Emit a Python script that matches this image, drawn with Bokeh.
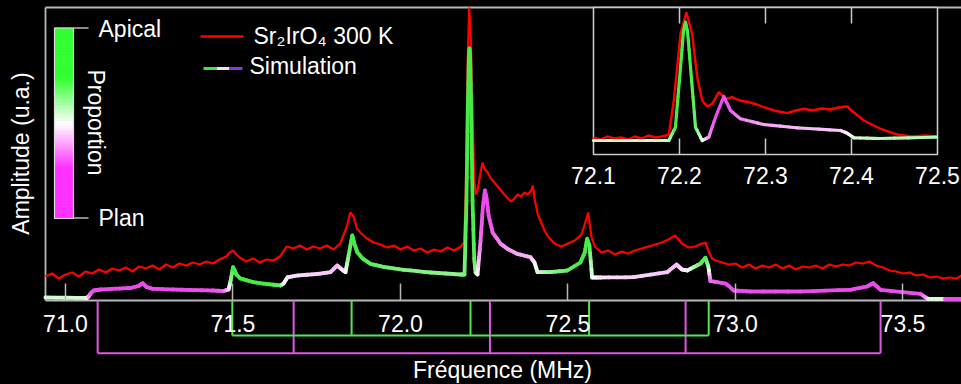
import math
from bokeh.plotting import figure
from bokeh.models import Range1d, FixedTicker, PrintfTickFormatter
from bokeh.core.properties import value
from bokeh.embed import file_html
from bokeh.resources import INLINE

# ---------------- data ----------------
# Experimental spectrum (Sr2IrO4, 300 K), main panel
red_freq = [70.94, 70.96, 70.98, 71.00, 71.02, 71.04, 71.06, 71.08, 71.10, 71.12,
            71.14, 71.16, 71.18, 71.20, 71.22, 71.24, 71.26, 71.28, 71.30, 71.32,
            71.34, 71.36, 71.38, 71.40, 71.42, 71.44, 71.46, 71.48, 71.49, 71.50,
            71.51, 71.52, 71.54, 71.56, 71.58, 71.60, 71.62, 71.64, 71.66, 71.68,
            71.70, 71.72, 71.74, 71.76, 71.78, 71.80, 71.82, 71.84, 71.85, 71.86,
            71.87, 71.88, 71.90, 71.92, 71.94, 71.96, 71.98, 72.00, 72.02, 72.04,
            72.06, 72.08, 72.10, 72.12, 72.14, 72.16, 72.18, 72.19, 72.195, 72.20,
            72.205, 72.21, 72.215, 72.22, 72.225, 72.23, 72.24, 72.245, 72.25, 72.26,
            72.27, 72.28, 72.29, 72.30, 72.31, 72.32, 72.33, 72.34, 72.35, 72.36,
            72.37, 72.38, 72.39, 72.395, 72.40, 72.41, 72.42, 72.43, 72.44, 72.46,
            72.48, 72.50, 72.52, 72.54, 72.55, 72.56, 72.57, 72.58, 72.60, 72.62,
            72.64, 72.66, 72.68, 72.70, 72.72, 72.74, 72.76, 72.78, 72.80, 72.82,
            72.84, 72.86, 72.88, 72.90, 72.91, 72.92, 72.93, 72.94, 72.96, 72.98,
            73.00, 73.02, 73.04, 73.06, 73.08, 73.10, 73.12, 73.14, 73.16, 73.18,
            73.20, 73.22, 73.24, 73.26, 73.28, 73.30, 73.32, 73.34, 73.36, 73.38,
            73.40, 73.42, 73.44, 73.46, 73.48, 73.50, 73.52, 73.54, 73.56, 73.58,
            73.60, 73.62, 73.64, 73.66, 73.675]
red_amp = [22, 25, 20, 24, 26, 22, 27, 25, 29, 26,
           30, 28, 31, 27, 32, 30, 33, 29, 34, 31,
           35, 33, 36, 34, 37, 35, 39, 42, 46, 48,
           44, 41, 37, 40, 36, 39, 38, 42, 52, 50,
           53, 49, 52, 50, 53, 49, 55, 72, 86, 82,
           70, 66, 60, 56, 54, 51, 53, 49, 52, 48,
           50, 46, 49, 47, 51, 48, 52, 56, 110, 230,
           291, 260, 190, 120, 104, 108, 128, 136, 130, 126,
           120, 116, 112, 108, 104, 100, 97, 100, 104, 102,
           106, 104, 108, 113, 100, 84, 76, 68, 62, 55,
           52, 55, 58, 64, 74, 86, 62, 52, 46, 48,
           44, 47, 45, 48, 50, 52, 54, 56, 59, 63,
           55, 51, 52, 55, 56, 47, 40, 38, 36, 34,
           35, 31, 34, 30, 33, 31, 34, 30, 33, 29,
           32, 31, 33, 30, 34, 32, 34, 33, 36, 35,
           37, 33, 31, 28, 27, 25, 26, 23, 24, 21,
           22, 20, 21, 20, 23]

# Simulation, main panel: amplitude and apical proportion (1 = apical, 0 = plan)
sim_freq = [70.940, 71.063, 71.069, 71.076, 71.084, 71.105, 71.150, 71.194, 71.218, 71.230,
            71.242, 71.260, 71.320, 71.373, 71.440, 71.472, 71.487, 71.493, 71.500, 71.505,
            71.510, 71.522, 71.561, 71.600, 71.642, 71.651, 71.663, 71.693, 71.750, 71.791,
            71.811, 71.825, 71.836, 71.845, 71.856, 71.862, 71.871, 71.887, 71.910, 71.950,
            72.009, 72.090, 72.179, 72.191, 72.197, 72.201, 72.204, 72.206, 72.208, 72.211,
            72.215, 72.220, 72.224, 72.230, 72.239, 72.246, 72.252, 72.257, 72.263, 72.275,
            72.299, 72.320, 72.348, 72.388, 72.400, 72.409, 72.450, 72.498, 72.537, 72.550,
            72.557, 72.564, 72.572, 72.597, 72.696, 72.796, 72.824, 72.840, 72.856, 72.896,
            72.910, 72.919, 72.925, 72.970, 72.982, 72.994, 73.045, 73.194, 73.343, 73.393,
            73.411, 73.433, 73.552, 73.572, 73.579, 73.621, 73.627, 73.675]
sim_amp = [1.0, 0.5, 2.0, 5.5, 8.0, 9.0, 9.8, 10.5, 12.5, 15.3,
           11.5, 9.7, 9.0, 8.5, 8.0, 7.5, 9.0, 18.0, 31.3, 28.0,
           24.0, 20.0, 16.3, 14.5, 13.0, 15.0, 21.3, 23.0, 24.5, 26.3,
           33.0, 29.0, 26.3, 43.0, 63.0, 55.0, 46.3, 40.0, 34.7, 31.5,
           28.7, 26.0, 24.0, 24.0, 98.0, 190.0, 240.0, 250.0, 240.0, 190.0,
           98.0, 40.0, 26.0, 24.0, 58.0, 92.0, 108.0, 100.0, 83.0, 66.0,
           54.7, 49.5, 44.7, 41.3, 36.0, 26.3, 26.5, 28.0, 36.0, 46.0,
           59.7, 53.0, 21.0, 21.0, 21.3, 26.3, 34.0, 29.0, 28.0, 35.0,
           40.7, 32.0, 17.5, 15.0, 12.0, 8.0, 7.0, 7.0, 8.7, 12.0,
           15.3, 8.7, 4.7, 0.0, -0.5, -0.5, -0.5, -0.5]
sim_apical = [0.62, 0.62, 0.30, 0.05, 0.0, 0.0, 0.0, 0.0, 0.0, 0.0,
              0.0, 0.0, 0.0, 0.0, 0.02, 0.05, 0.30, 0.75, 1.0, 1.0,
              1.0, 1.0, 1.0, 1.0, 0.95, 0.60, 0.42, 0.40, 0.37, 0.35,
              0.30, 0.38, 0.45, 0.85, 1.0, 1.0, 1.0, 1.0, 0.95, 0.90,
              0.85, 0.82, 0.80, 0.85, 1.0, 1.0, 1.0, 1.0, 1.0, 1.0,
              1.0, 0.95, 0.80, 0.50, 0.10, 0.0, 0.0, 0.0, 0.0, 0.05,
              0.15, 0.20, 0.25, 0.30, 0.40, 0.60, 0.80, 0.90, 1.0, 1.0,
              1.0, 1.0, 0.55, 0.42, 0.37, 0.35, 0.30, 0.40, 0.50, 0.90,
              1.0, 0.80, 0.10, 0.0, 0.0, 0.0, 0.0, 0.0, 0.0, 0.0,
              0.0, 0.0, 0.0, 0.20, 0.62, 0.62, 0.0, 0.0]

# Inset (zoom on the central line)
inset_red_freq = [72.100, 72.108, 72.116, 72.124, 72.132, 72.140, 72.148, 72.156, 72.164, 72.172,
                  72.180, 72.1876, 72.1934, 72.2012, 72.208, 72.2147, 72.2206, 72.2264, 72.2322, 72.238,
                  72.2457, 72.2535, 72.2613, 72.270, 72.280, 72.290, 72.298, 72.310, 72.320, 72.3252,
                  72.335, 72.345, 72.355, 72.365, 72.375, 72.385, 72.395, 72.400, 72.4143, 72.4337,
                  72.453, 72.470, 72.485, 72.4988]
inset_red_amp = [3, 1, 4, 2, 3, 1, 4, 2, 5, 3,
                 4, 6, 40, 106.7, 128.3, 106.7, 63.3, 40, 34, 36.7,
                 48.3, 41.7, 43.3, 40, 38.5, 36, 33.3, 30, 28.3, 27.3,
                 30, 31.7, 30, 32, 31, 33, 34, 30, 20, 11.7,
                 6, 4, 5, 4]
inset_sim_freq = [72.100, 72.1876, 72.1953, 72.2012, 72.2045, 72.207, 72.2095, 72.2128, 72.2186, 72.2264,
                  72.234, 72.2419, 72.2515, 72.2593, 72.2709, 72.298, 72.3369, 72.3872, 72.395, 72.4027,
                  72.4337, 72.4988]
inset_sim_amp = [0, 0, 13.3, 73.3, 108, 118.3, 108, 73.3, 13.3, 0,
                 3.3, 23.3, 44, 30, 21.7, 16, 12.7, 10, 7.3, 2.7,
                 2, 3.3]
inset_sim_apical = [0.62, 0.65, 1.0, 1.0, 1.0, 1.0, 1.0, 1.0, 0.9, 0.6,
                    0.2, 0.0, 0.0, 0.05, 0.15, 0.25, 0.30, 0.35, 0.45, 0.6,
                    0.7, 0.7]

# Line positions (stick diagrams) and ticks
apical_lines = [71.498, 71.854, 72.209, 72.563, 72.920]
plan_lines = [71.096, 71.681, 72.267, 72.851, 73.433]
main_ticks = [71.0, 71.5, 72.0, 72.5, 73.0, 73.5]
inset_ticks = [72.1, 72.2, 72.3, 72.4, 72.5]
inset_tick_labels = ["72.1", "72.2", "72.3", "72.4", "72.5"]

# ---------------- styling helpers ----------------
FONT = value("Liberation Sans")
FS = "23px"
GREY = "#b8b8b8"
W, H = 961, 384

GREEN = (70, 236, 70)
MAGENTA = (236, 76, 236)


def mix(frac, g=GREEN, m=MAGENTA):
    if frac >= 0.5:
        t = (frac - 0.5) / 0.5
        c = [255 * (1 - t) + g[i] * t for i in range(3)]
    else:
        t = frac / 0.5
        c = [m[i] * (1 - t) + 255 * t for i in range(3)]
    return "#%02x%02x%02x" % tuple(int(round(v)) for v in c)


def colored_segments(fr, am, ap, sub=4):
    x0, y0, x1, y1, cols = [], [], [], [], []
    for i in range(len(fr) - 1):
        for k in range(sub):
            t0, t1 = k / sub, (k + 1) / sub
            x0.append(fr[i] + (fr[i + 1] - fr[i]) * t0)
            x1.append(fr[i] + (fr[i + 1] - fr[i]) * t1)
            y0.append(am[i] + (am[i + 1] - am[i]) * t0)
            y1.append(am[i] + (am[i + 1] - am[i]) * t1)
            cols.append(mix(ap[i] + (ap[i + 1] - ap[i]) * (t0 + t1) / 2))
    return dict(x0=x0, y0=y0, x1=x1, y1=y1, color=cols)


# ---------------- figure ----------------
p = figure(width=W, height=H, title=None,
           x_range=Range1d(70.80597, 73.67463), y_range=Range1d(-86, 298),
           output_backend="svg", toolbar_location=None, min_border=0,
           background_fill_color="black", border_fill_color="black",
           outline_line_color=None)
p.extra_x_ranges = {"ix": Range1d(71.410465, 72.527907), "px": Range1d(0, W)}
p.extra_y_ranges = {"iy": Range1d(-244, 140), "py": Range1d(H, 0)}
p.yaxis.visible = False
p.grid.visible = False

xa = p.xaxis[0]
xa.fixed_location = -2
xa.ticker = FixedTicker(ticks=main_ticks)
xa.formatter = PrintfTickFormatter(format="%.1f")
xa.axis_line_color = None
xa.major_tick_in = 17
xa.major_tick_out = 0
xa.minor_tick_line_color = None
xa.major_tick_line_color = GREY
xa.major_tick_line_width = 1.5
xa.major_label_text_color = "white"
xa.major_label_text_font = "Liberation Sans"
xa.major_label_text_font_size = FS
xa.major_label_standoff = 14

x_left = 70.9403
x_right = 73.6746
# main frame: left edge, top edge, baseline
p.segment(x0=[x_left, x_left, x_left], y0=[-2, 291, -2], x1=[x_left, x_right, x_right],
          y1=[291, 291, -2], line_color=GREY, line_width=1.8)

# stick diagrams below the axis
g_lvl, m_lvl = -37, -54.7
p.segment(x0=plan_lines, y0=[-2] * len(plan_lines), x1=plan_lines, y1=[m_lvl] * len(plan_lines),
          line_color="#e455e4", line_width=2)
p.segment(x0=[plan_lines[0]], y0=[m_lvl], x1=[plan_lines[-1]], y1=[m_lvl],
          line_color="#e455e4", line_width=2)
p.segment(x0=apical_lines, y0=[-2] * len(apical_lines), x1=apical_lines, y1=[g_lvl] * len(apical_lines),
          line_color="#4fe84f", line_width=2)
p.segment(x0=[apical_lines[0]], y0=[g_lvl], x1=[apical_lines[-1]], y1=[g_lvl],
          line_color="#4fe84f", line_width=2)

# main curves
p.line(red_freq, red_amp, line_color="#ff0000", line_width=2.2)
p.segment(x0="x0", y0="y0", x1="x1", y1="y1", line_color="color", line_width=3.8,
          line_cap="round", source=colored_segments(sim_freq, sim_amp, sim_apical))

# ---------------- inset ----------------
I = dict(x_range_name="ix", y_range_name="iy")
p.quad(left=[72.1], right=[72.5], bottom=[-14], top=[133], fill_color="black",
       line_color="#c8c8c8", line_width=1.6, **I)
p.line(inset_red_freq, inset_red_amp, line_color="#ff0000", line_width=2.4, **I)
p.segment(x0="x0", y0="y0", x1="x1", y1="y1", line_color="color", line_width=3.2,
          line_cap="round", source=colored_segments(inset_sim_freq, inset_sim_amp, inset_sim_apical), **I)
inner = inset_ticks[1:-1]
p.segment(x0=inner, y0=[-14] * 3, x1=inner, y1=[2] * 3, line_color="#c8c8c8", line_width=1.5, **I)
p.segment(x0=inner, y0=[133] * 3, x1=inner, y1=[117] * 3, line_color="#c8c8c8", line_width=1.5, **I)
p.text(x=inset_ticks, y=[-35] * 5, text=inset_tick_labels, text_color="white", text_font=FONT,
       text_font_size=FS, text_align="center", text_baseline="middle", **I)

# ---------------- legend / colour bar (pixel coordinates) ----------------
P = dict(x_range_name="px", y_range_name="py")
N = 80
cb_bottom, cb_top = 218.0, 27.5
ys = [cb_bottom + (cb_top - cb_bottom) * j / N for j in range(N + 1)]
cb_green, cb_mag = (51, 255, 51), (255, 51, 255)


def cb_color(f):
    if f >= 0.74:
        return mix(1.0, cb_green, cb_mag)
    if f >= 0.5:
        return mix(0.5 + 0.5 * (f - 0.5) / 0.24, cb_green, cb_mag)
    if f >= 0.27:
        return mix(0.5 * (f - 0.27) / 0.23, cb_green, cb_mag)
    return mix(0.0, cb_green, cb_mag)


cb_cols = [cb_color((j + 0.5) / N) for j in range(N)]
p.quad(left=[54] * N, right=[73] * N, bottom=ys[:-1], top=ys[1:],
       fill_color=cb_cols, line_color=cb_cols, line_width=1, **P)
p.quad(left=[54], right=[73], bottom=[cb_bottom], top=[cb_top], fill_color=None,
       line_color="#dddddd", line_width=1.2, **P)
p.segment(x0=[73, 73], y0=[cb_top, cb_bottom - 0.5], x1=[88, 88], y1=[cb_top, cb_bottom - 0.5],
          line_color=GREY, line_width=1.5, **P)
p.text(x=[98, 98], y=[28, 217], text=["Apical", "Plan"], text_color="white", text_font=FONT,
       text_font_size=FS, text_align="left", text_baseline="middle", **P)
p.text(x=[95], y=[122], text=["Proportion"], angle=-math.pi / 2, text_color="white", text_font=FONT,
       text_font_size=FS, text_align="center", text_baseline="middle", **P)

# series legend
p.segment(x0=[200], y0=[36], x1=[243], y1=[36], line_color="#ff0000", line_width=2.5, **P)
p.segment(x0=[203, 216, 229], y0=[68] * 3, x1=[216, 229, 242], y1=[68] * 3,
          line_color=["#44e044", "#e8e8e8", "#8a33e0"], line_width=3, **P)
p.text(x=[253, 249], y=[35, 65], text=["Sr\u2082IrO\u2084 300 K", "Simulation"], text_color="white",
       text_font=FONT, text_font_size=FS, text_align="left", text_baseline="middle", **P)

# axis titles
p.text(x=[20], y=[153], text=["Amplitude (u.a.)"], angle=math.pi / 2, text_color="white",
       text_font=FONT, text_font_size=FS, text_align="center", text_baseline="middle", **P)
p.text(x=[502], y=[369], text=["Fréquence (MHz)"], text_color="white",
       text_font=FONT, text_font_size=FS, text_align="center", text_baseline="middle", **P)

tmpl = "{% block postamble %}<style>html, body { background: #000000; }</style>{% endblock %}"
open("out.html", "w").write(file_html(p, INLINE, template=tmpl))
